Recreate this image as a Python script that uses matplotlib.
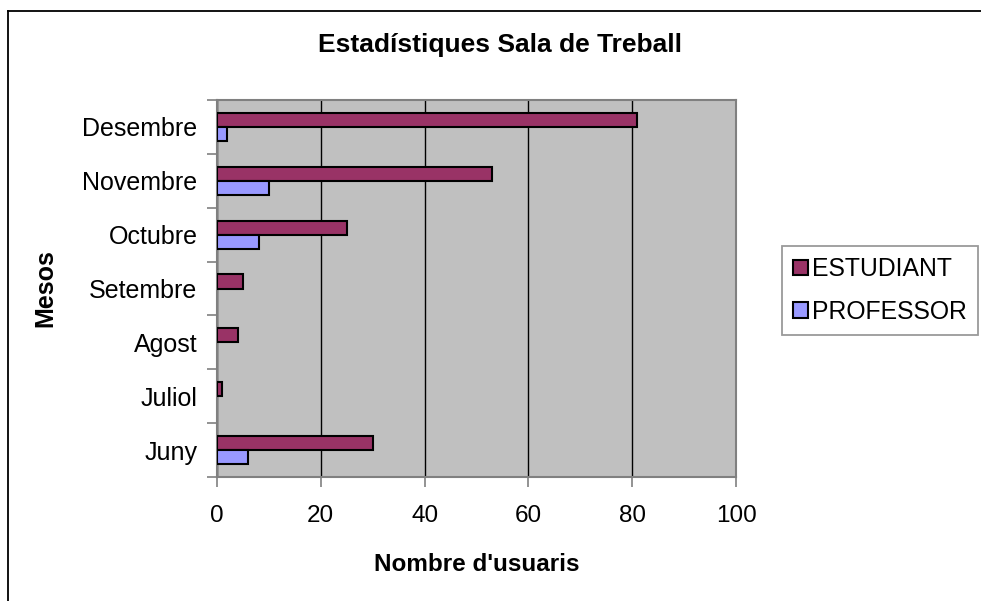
import matplotlib.pyplot as plt
import numpy as np
from matplotlib.lines import Line2D

plt.rcParams['font.family'] = ['Liberation Sans', 'DejaVu Sans']

# data
months = ['Juny', 'Juliol', 'Agost', 'Setembre', 'Octubre', 'Novembre', 'Desembre']
estudiant = [30, 1, 4, 5, 25, 53, 81]
professor = [6, 0, 0, 0, 8, 10, 2]
x_ticks = [0, 20, 40, 60, 80, 100]

W, H = 981, 601
fig = plt.figure(figsize=(W / 100, H / 100), dpi=100)

# outer chart border (cut off at right and bottom like the original)
fig.add_artist(Line2D([7.5 / W, 7.5 / W], [0, 1 - 10.5 / H], color='black', lw=1.3))
fig.add_artist(Line2D([7.5 / W, 1], [1 - 10.5 / H, 1 - 10.5 / H], color='black', lw=1.3))

ax = fig.add_axes([217 / W, 1 - 477 / H, 519 / W, 377 / H])
ax.set_facecolor('#C0C0C0')

y = np.arange(len(months))
h = 0.26
# zero values get no outline, as in the original
ax.barh(y + h / 2, estudiant, height=h, color='#993366',
        edgecolor=['black' if v else 'none' for v in estudiant],
        linewidth=1.5, label='ESTUDIANT', zorder=3)
ax.barh(y - h / 2, professor, height=h, color='#9999FF',
        edgecolor=['black' if v else 'none' for v in professor],
        linewidth=1.5, label='PROFESSOR', zorder=3)

ax.set_xlim(0, 100)
ax.set_ylim(-0.5, len(months) - 0.5)
ax.set_xticks(x_ticks)
ax.set_yticks(y)
ax.set_yticklabels(months)
ax.set_yticks(np.arange(len(months) + 1) - 0.5, minor=True)
ax.tick_params(axis='y', which='major', length=0, labelsize=18, pad=14)
ax.tick_params(axis='y', which='minor', length=7, color='#808080', width=1.2)
ax.tick_params(axis='x', length=7, color='#808080', width=1.2, labelsize=17.5, pad=13)
ax.xaxis.grid(True, color='black', linewidth=1, zorder=1)
ax.set_axisbelow(True)
for s in ax.spines.values():
    s.set_color('#808080')
    s.set_linewidth(1.5)

ax.set_xlabel("Nombre d'usuaris", fontsize=17.5, fontweight='bold', labelpad=19)
ax.set_ylabel('Mesos', fontsize=18, fontweight='bold', labelpad=18)
fig.text(500 / W, 1 - 45 / H, 'Estadístiques Sala de Treball',
         ha='center', va='center', fontsize=19, fontweight='bold')

leg = fig.legend(loc='upper left', bbox_to_anchor=(782 / W, 1 - 246 / H),
                 fontsize=17.8, frameon=True, fancybox=False, edgecolor='#808080',
                 handlelength=0.6, handleheight=0.6, handletextpad=0.15,
                 borderpad=0.45, labelspacing=0.75, borderaxespad=0)
leg.get_frame().set_linewidth(1.3)

fig.savefig('out.png', dpi=100)
